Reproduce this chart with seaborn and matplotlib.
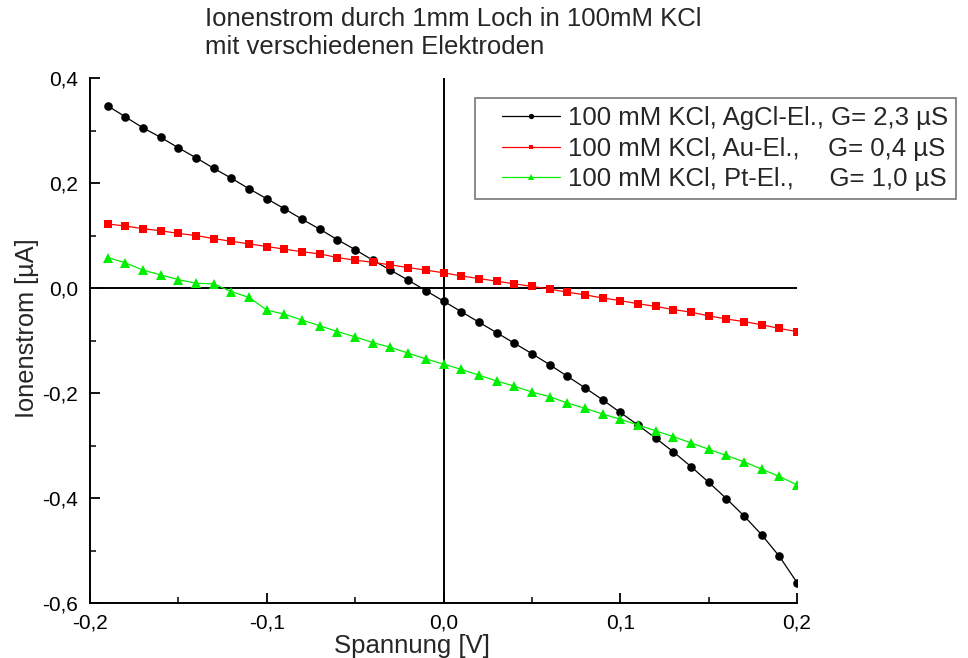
import numpy as np
import pandas as pd
import matplotlib
matplotlib.use("Agg")
import matplotlib.pyplot as plt
from matplotlib.ticker import MultipleLocator, FuncFormatter
from matplotlib.lines import Line2D
from matplotlib.legend_handler import HandlerLine2D
import seaborn as sns

voltage = [round(-0.19 + 0.01 * i, 2) for i in range(40)]

agcl = [0.347, 0.326, 0.305, 0.287, 0.267, 0.248, 0.228, 0.209, 0.189, 0.170,
        0.151, 0.131, 0.112, 0.092, 0.073, 0.053, 0.034, 0.015, -0.005, -0.025,
        -0.045, -0.065, -0.085, -0.105, -0.125, -0.146, -0.168, -0.190, -0.213, -0.237,
        -0.261, -0.286, -0.312, -0.340, -0.370, -0.401, -0.434, -0.470, -0.511, -0.561]

au = [0.122, 0.118, 0.113, 0.109, 0.104, 0.100, 0.094, 0.089, 0.084, 0.079,
      0.074, 0.069, 0.065, 0.058, 0.053, 0.049, 0.044, 0.039, 0.034, 0.029,
      0.023, 0.018, 0.013, 0.008, 0.003, -0.002, -0.008, -0.013, -0.019, -0.024,
      -0.030, -0.035, -0.041, -0.046, -0.053, -0.059, -0.064, -0.070, -0.077, -0.083]

pt = [0.058, 0.048, 0.034, 0.025, 0.016, 0.009, 0.008, -0.007, -0.018, -0.042,
      -0.050, -0.061, -0.072, -0.083, -0.093, -0.104, -0.113, -0.124, -0.135, -0.145,
      -0.155, -0.166, -0.177, -0.187, -0.198, -0.207, -0.219, -0.229, -0.240, -0.250,
      -0.261, -0.272, -0.283, -0.295, -0.307, -0.319, -0.331, -0.345, -0.359, -0.375]

labels = ["100 mM KCl, AgCl-El., G= 2,3 µS",
          "100 mM KCl, Au-El.,    G= 0,4 µS",
          "100 mM KCl, Pt-El.,     G= 1,0 µS"]

sns.set_theme(style="white")
plt.rcParams['font.family'] = ['Liberation Sans', 'DejaVu Sans']

fig = plt.figure(figsize=(9.68, 6.58), dpi=100)
ax = fig.add_axes([90/968, 1-603/658, 707/968, 525/658])

ax.axhline(0, color="black", lw=1.4, zorder=1)
ax.axvline(0, color="black", lw=1.4, zorder=1)

series = [(agcl, "black", "o", 6.2), (au, "#ff0000", "s", 5.3), (pt, "#00ee00", "^", 6.6)]
handles = []
for (vals, col, mk, ms), lab in zip(series, labels):
    df = pd.DataFrame({"U": voltage, "I": vals})
    sns.lineplot(data=df, x="U", y="I", ax=ax, color=col, lw=0.9,
                 marker=mk, markersize=ms, markeredgewidth=0, zorder=3)
    handles.append(Line2D([], [], color=col, lw=0.9, marker=mk,
                          markersize=ms * 0.62, markeredgewidth=0))

ax.set_xlim(-0.2, 0.2)
ax.set_ylim(-0.6, 0.4)
ax.xaxis.set_major_locator(MultipleLocator(0.1))
ax.xaxis.set_minor_locator(MultipleLocator(0.05))
ax.yaxis.set_major_locator(MultipleLocator(0.2))
ax.yaxis.set_minor_locator(MultipleLocator(0.1))
fmt = FuncFormatter(lambda v, p: f"{v:.1f}".replace(".", ",").replace("-0,0", "0,0"))
ax.xaxis.set_major_formatter(fmt)
ax.yaxis.set_major_formatter(fmt)
ax.tick_params(which="major", direction="in", length=7, width=1.3, labelsize=15,
               bottom=True, left=True, colors="black")
ax.tick_params(which="minor", direction="in", length=4.5, width=1.3,
               bottom=True, left=True)
ax.tick_params(axis="x", pad=7.5)
ax.tick_params(axis="y", pad=8.5)

for s in ["top", "right"]:
    ax.spines[s].set_visible(False)
for s in ["left", "bottom"]:
    ax.spines[s].set_color("black")
    ax.spines[s].set_linewidth(1.4)

ax.set_xlabel("Spannung [V]", fontsize=18.5)
ax.set_ylabel("Ionenstrom [µA]", fontsize=18.3)
ax.xaxis.set_label_coords(0.455, -0.059)
ax.yaxis.set_label_coords(-0.072, 0.524)

hmap = {h: HandlerLine2D(xpad=0.75) for h in handles}
leg = fig.legend(handles, labels, loc="upper left",
                 bbox_to_anchor=(475/968, 1-98/658), borderaxespad=0,
                 fontsize=18.5, frameon=True, fancybox=False, handlelength=3.0,
                 handletextpad=0.3, labelspacing=0.25, borderpad=0.32,
                 handler_map=hmap)
leg.get_frame().set_edgecolor("#555555")
leg.get_frame().set_linewidth(1.2)

fig.text(205/968, 1-7/658, "Ionenstrom durch 1mm Loch in 100mM KCl\nmit verschiedenen Elektroden",
         ha="left", va="top", fontsize=18.5, linespacing=1.2)

fig.savefig("out.png", dpi=100)
